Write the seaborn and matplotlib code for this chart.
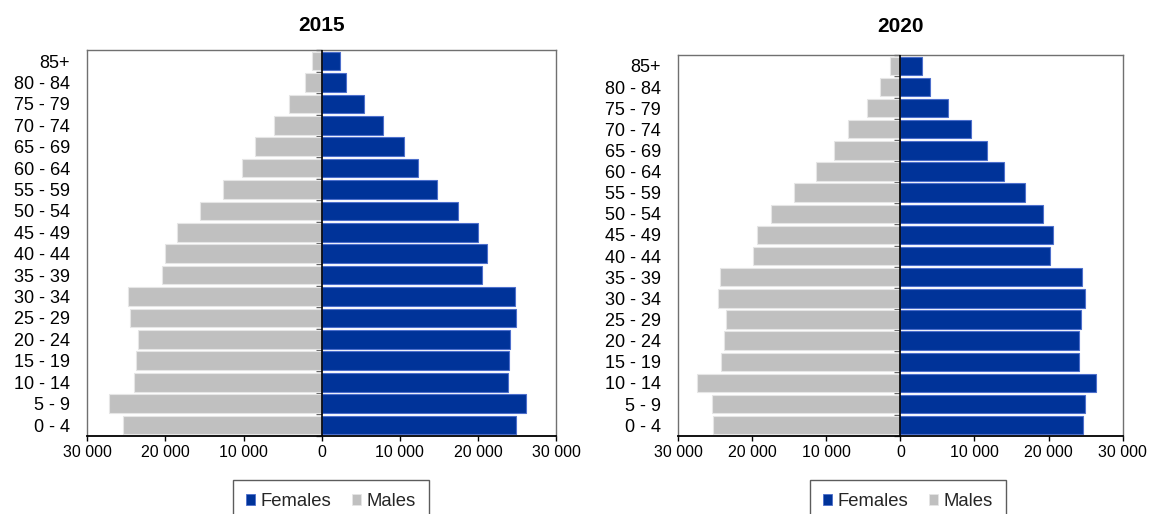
import numpy as np
import pandas as pd
import matplotlib
matplotlib.use("Agg")
import matplotlib.pyplot as plt
from matplotlib.patches import Patch
from matplotlib.ticker import FuncFormatter
import seaborn as sns

ages = ['85+', '80 - 84', '75 - 79', '70 - 74', '65 - 69', '60 - 64', '55 - 59',
        '50 - 54', '45 - 49', '40 - 44', '35 - 39', '30 - 34', '25 - 29',
        '20 - 24', '15 - 19', '10 - 14', '5 - 9', '0 - 4']

males_2015 = [1280, 2090, 4140, 6060, 8490, 10240, 12670, 15530, 18470, 20100,
              20390, 24750, 24490, 23470, 23810, 23980, 27180, 25390]
females_2015 = [2390, 3160, 5460, 7770, 10580, 12370, 14680, 17490, 19930, 21080,
                20440, 24660, 24790, 24020, 23890, 23770, 26070, 24870]

males_2020 = [1440, 2680, 4560, 7040, 9020, 11450, 14330, 17400, 19330, 19930,
              24390, 24580, 23600, 23840, 24190, 27510, 25380, 25330]
females_2020 = [2870, 4010, 6440, 9570, 11700, 14030, 16850, 19280, 20670, 20220,
                24490, 24930, 24430, 24140, 24090, 26370, 24880, 24630]

years = ['2015', '2020']
xticks = [-30000, -20000, -10000, 0, 10000, 20000, 30000]

FEM = '#003399'
FEM_EDGE = '#4d6fcc'
MAL = '#c0c0c0'
MAL_EDGE = '#e6e6e6'

sns.set_theme(style='white')
plt.rcParams['font.family'] = ['Liberation Sans', 'DejaVu Sans']

fig = plt.figure(figsize=(11.56, 5.14), dpi=100)
axes_pos = [[0.0755, 0.1523, 0.4057, 0.7498],
            [0.5866, 0.1523, 0.3845, 0.7401]]
title_pads = [13.9, 16.8]
legend_x = [0.2863, 0.7855]

datasets = [(males_2015, females_2015), (males_2020, females_2020)]

for i, (males, females) in enumerate(datasets):
    ax = fig.add_axes(axes_pos[i])
    df = pd.DataFrame({'age': ages,
                       'males': [-v for v in males],
                       'females': females})
    sns.barplot(data=df, x='males', y='age', order=ages, orient='h',
                color=MAL, saturation=1, width=0.87, edgecolor=MAL_EDGE,
                linewidth=0.8, ax=ax, zorder=2)
    sns.barplot(data=df, x='females', y='age', order=ages, orient='h',
                color=FEM, saturation=1, width=0.87, edgecolor=FEM_EDGE,
                linewidth=0.8, ax=ax, zorder=2)
    ax.set_xlim(-30000, 30000)
    ax.set_ylim(len(ages) - 0.5, -0.5)
    ax.set_xticks(xticks)
    ax.xaxis.set_major_formatter(FuncFormatter(
        lambda v, p: '{:,}'.format(int(abs(v))).replace(',', ' ')))
    ax.set_xlabel('')
    ax.set_ylabel('')
    ax.tick_params(axis='x', which='major', bottom=True, length=3.5, width=1,
                   color='black', pad=3, labelsize=11.5, labelcolor='black')
    ax.tick_params(axis='y', which='major', left=False, length=0, pad=12.3,
                   labelsize=13, labelcolor='black')
    for side in ['top', 'right', 'left']:
        ax.spines[side].set_visible(True)
        ax.spines[side].set_color('#707070')
        ax.spines[side].set_linewidth(1.0)
    ax.spines['bottom'].set_color('black')
    ax.spines['bottom'].set_linewidth(1.3)
    ax.axvline(0, color='black', linewidth=1.2, zorder=4)

    # small boundary tick marks along the zero axis
    try:
        sec = ax.secondary_yaxis(0.5)
        sec.set_yticks(np.arange(-0.5, len(ages), 1.0))
        sec.set_yticklabels([])
        sec.yaxis.set_ticks_position('left')
        sec.tick_params(axis='y', length=4, width=1, color='#606060',
                        direction='out', left=True, right=False)
        sec.spines['left'].set_visible(False)
        sec.spines['right'].set_visible(False)
    except Exception:
        pass

    ax.set_title(years[i], fontsize=15, fontweight='bold', pad=title_pads[i],
                 color='black')

    handles = [Patch(facecolor=FEM, edgecolor=FEM_EDGE, linewidth=0.6, label='Females'),
               Patch(facecolor=MAL, edgecolor=MAL_EDGE, linewidth=0.6, label='Males')]
    leg = fig.legend(handles=handles, loc='upper center',
                     bbox_to_anchor=(legend_x[i], 1 - 480 / 514),
                     bbox_transform=fig.transFigure, ncol=2, fontsize=13.3,
                     frameon=True, fancybox=False, handlelength=0.5,
                     handleheight=0.5, handletextpad=0.3, columnspacing=1.1,
                     borderpad=0.7, borderaxespad=0)
    leg.get_frame().set_edgecolor('#333333')
    leg.get_frame().set_linewidth(1.0)

fig.savefig('out.png', dpi=100)
